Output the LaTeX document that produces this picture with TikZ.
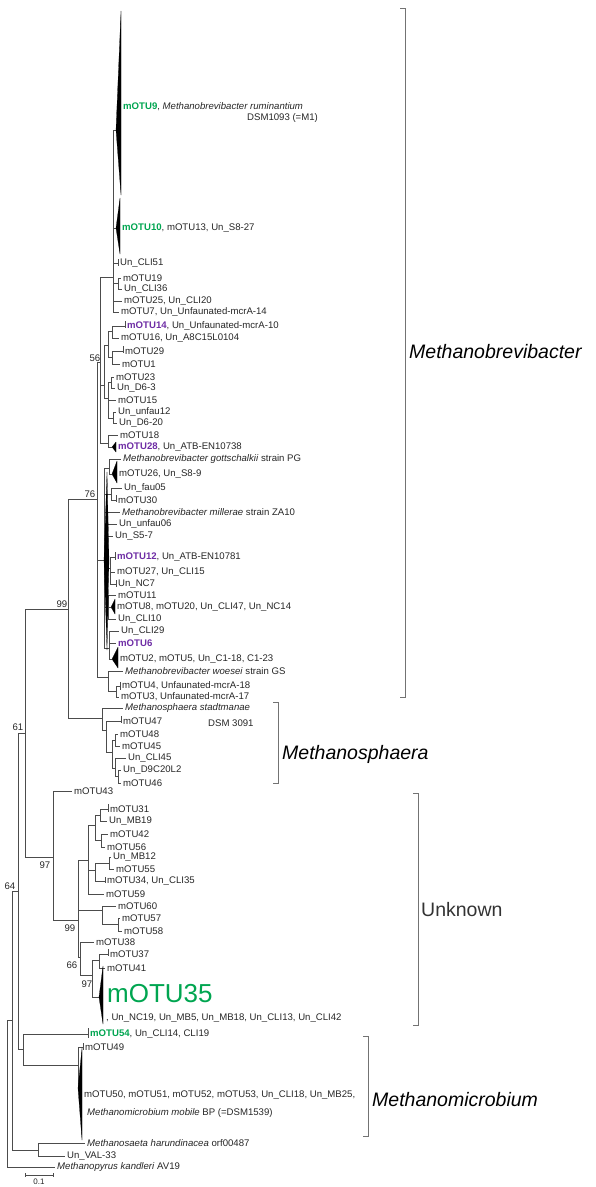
\documentclass[tikz,border=0pt]{standalone}
\usepackage{fontspec}
\setmainfont{Liberation Sans}
\usepackage{tikz}
\usepackage{xcolor}
\definecolor{otugreen}{RGB}{0,165,80}
\definecolor{otupurple}{RGB}{110,45,165}
\newcommand{\gotu}[1]{\textcolor{otugreen}{\bfseries #1}}
\newcommand{\potu}[1]{\textcolor{otupurple}{\bfseries #1}}

\begin{document}
\begin{tikzpicture}[x=1pt, y=-1pt,
    branch/.style={line width=0.75pt, draw=black!70},
    wedge/.style={fill=black, draw=black, line width=0.2pt, line join=round},
    leaf/.style={anchor=west, inner sep=0pt, xshift=2pt, text=black!85,
                 font=\fontsize{9.6}{11}\selectfont},
    boot/.style={inner sep=0pt, text=black!85, font=\fontsize{9.6}{11}\selectfont},
    clade/.style={anchor=west, inner sep=0pt, font=\fontsize{19.5}{22}\selectfont\itshape},
    bracket/.style={line width=0.9pt, draw=black!55}]

    \useasboundingbox (0,0) rectangle (595,1187);
%    \draw [help lines, opacity=0.5] (0,0) grid [step=50] (595,1187);

    %% backbone
    \coordinate (R) at (7,1093);
    \coordinate (Nb) at (12,1020);
    \coordinate (kand) at (55,1167);
    \coordinate (N64) at (18,891);
    \coordinate (NS) at (38,1150);
    \coordinate (haru) at (85,1143);
    \coordinate (val) at (65,1156);
    \coordinate (N61) at (25,733);
    \coordinate (NM) at (23,1049);
    \coordinate (N99) at (68,609);
    \coordinate (N97) at (53,857);

    %% Methanobrevibacter
    \coordinate (N76) at (97,499);
    \coordinate (N56) at (100,362);
    \coordinate (Nmb) at (104,560);
    \coordinate (Nwoe) at (108,677);
    \coordinate (G1) at (113,277);
    \coordinate (Nq) at (104,385);
    \coordinate (N18) at (108,443);
    \coordinate (T9) at (116,130);
    \coordinate (T10) at (116,228);
    \coordinate (c51) at (118,263);
    \coordinate (N19) at (118,283);
    \coordinate (m19) at (121,278);
    \coordinate (c36) at (122,289);
    \coordinate (m25) at (122,301);
    \coordinate (m7) at (119,312);
    \coordinate (Nq1) at (108,345);
    \coordinate (Nq1a) at (112,331);
    \coordinate (Nq1b) at (112,357);
    \coordinate (m14) at (125,326);
    \coordinate (m16) at (119,338);
    \coordinate (m29) at (123,351);
    \coordinate (m1) at (120,364);
    \coordinate (Nq2) at (108,398);
    \coordinate (Nq2a) at (111,382);
    \coordinate (m23) at (114,377);
    \coordinate (d63) at (115,388);
    \coordinate (m15) at (116,400);
    \coordinate (Nq2b) at (113,418);
    \coordinate (unf12) at (116,412);
    \coordinate (d620) at (117,423);
    \coordinate (m18) at (118,435);
    \coordinate (T28) at (112,447);
    \coordinate (Ngot) at (109,468);
    \coordinate (got) at (121,459);
    \coordinate (T26) at (112,474);
    \coordinate (Nfau) at (111,494);
    \coordinate (fau05) at (122,488);
    \coordinate (m30) at (116,500);
    \coordinate (mill) at (120,512);
    \coordinate (unf06) at (117,524);
    \coordinate (s57) at (113,536);
    \coordinate (N12) at (110,568);
    \coordinate (m12) at (115,557);
    \coordinate (m27) at (115,572);
    \coordinate (nc7) at (116,584);
    \coordinate (N11) at (108,607);
    \coordinate (m11) at (116,595);
    \coordinate (T8) at (111,607);
    \coordinate (c10) at (116,619);
    \coordinate (N6) at (109,648);
    \coordinate (c29) at (119,631);
    \coordinate (m6) at (116,643);
    \coordinate (T2) at (112,659);
    \coordinate (woe) at (123,671);
    \coordinate (N4) at (116,691);
    \coordinate (m4) at (120,686);
    \coordinate (m3) at (119,697);

    %% Methanosphaera
    \coordinate (NMs) at (102,718);
    \coordinate (stad) at (123,708);
    \coordinate (Ns1) at (106,730);
    \coordinate (m47) at (121,721);
    \coordinate (Ns2) at (112,752);
    \coordinate (Ns3) at (115,740);
    \coordinate (m48) at (118,734);
    \coordinate (m45) at (120,746);
    \coordinate (Ns4) at (115,768);
    \coordinate (c45) at (126,758);
    \coordinate (Ns5) at (118,776);
    \coordinate (d9) at (121,770);
    \coordinate (m46) at (121,783);

    %% unknown clade
    \coordinate (m43) at (72,791);
    \coordinate (N99b) at (78,920);
    \coordinate (Nu2) at (88,860);
    \coordinate (Nu2a) at (95,825);
    \coordinate (Nu31) at (100,815);
    \coordinate (m31) at (108,809);
    \coordinate (mb19) at (107,821);
    \coordinate (Nu42) at (101,840);
    \coordinate (m42) at (108,834);
    \coordinate (m56) at (105,847);
    \coordinate (Nu2b) at (95,870);
    \coordinate (Nu12) at (109,863);
    \coordinate (mb12) at (111,857);
    \coordinate (m55) at (114,869);
    \coordinate (m34) at (105,881);
    \coordinate (m59) at (104,894);
    \coordinate (Nu60) at (102,910);
    \coordinate (m60) at (116,906);
    \coordinate (Nu57) at (118,924);
    \coordinate (m57) at (120,918);
    \coordinate (m58) at (122,931);
    \coordinate (N66) at (80,957);
    \coordinate (m38) at (94,942);
    \coordinate (N97c) at (92,975);
    \coordinate (Nu37) at (99,960);
    \coordinate (m37) at (108,954);
    \coordinate (m41) at (105,968);
    \coordinate (T35) at (99,997);

    %% Methanomicrobium
    \coordinate (m54) at (88,1034);
    \coordinate (Nmm) at (78,1065);
    \coordinate (m49) at (83,1047);
    \coordinate (Tmm) at (78,1088);

    %% branches, one path per parent
    \draw [branch] (R) |- (Nb) (R) |- (kand);
    \draw [branch] (Nb) |- (N64) (Nb) |- (NS);
    \draw [branch] (NS) |- (haru) (NS) |- (val);
    \draw [branch] (N64) |- (N61) (N64) |- (NM);
    \draw [branch] (N61) |- (N99) (N61) |- (N97);
    \draw [branch] (N99) |- (N76) (N99) |- (NMs);
    \draw [branch] (N76) |- (N56) (N76) |- (Nmb) (N76) |- (Nwoe);
    \draw [branch] (N56) |- (G1) (N56) |- (Nq) (N56) |- (N18);
    \draw [branch] (G1) |- (T9) (G1) |- (T10) (G1) |- (c51) (G1) |- (N19) (G1) |- (m25) (G1) |- (m7);
    \draw [branch] (N19) |- (m19) (N19) |- (c36);
    \draw [branch] (Nq) |- (Nq1) (Nq) |- (Nq2);
    \draw [branch] (Nq1) |- (Nq1a) (Nq1) |- (Nq1b);
    \draw [branch] (Nq1a) |- (m14) (Nq1a) |- (m16);
    \draw [branch] (Nq1b) |- (m29) (Nq1b) |- (m1);
    \draw [branch] (Nq2) |- (Nq2a) (Nq2) |- (m15) (Nq2) |- (Nq2b);
    \draw [branch] (Nq2a) |- (m23) (Nq2a) |- (d63);
    \draw [branch] (Nq2b) |- (unf12) (Nq2b) |- (d620);
    \draw [branch] (N18) |- (m18) (N18) |- (T28);
    \draw [branch] (Nmb) |- (Ngot) (Nmb) |- (Nfau) (Nmb) |- (mill) (Nmb) |- (unf06)
                   (Nmb) |- (s57) (Nmb) |- (N12) (Nmb) |- (N11) (Nmb) |- (N6);
    \draw [branch] (Ngot) |- (got) (Ngot) |- (T26);
    \draw [branch] (Nfau) |- (fau05) (Nfau) |- (m30);
    \draw [branch] (N12) |- (m12) (N12) |- (m27) (N12) |- (nc7);
    \draw [branch] (N11) |- (m11) (N11) |- (T8) (N11) |- (c10);
    \draw [branch] (N6) |- (c29) (N6) |- (m6) (N6) |- (T2);
    \draw [branch] (Nwoe) |- (woe) (Nwoe) |- (N4);
    \draw [branch] (N4) |- (m4) (N4) |- (m3);
    \draw [branch] (NMs) |- (stad) (NMs) |- (Ns1);
    \draw [branch] (Ns1) |- (m47) (Ns1) |- (Ns2);
    \draw [branch] (Ns2) |- (Ns3) (Ns2) |- (Ns4);
    \draw [branch] (Ns3) |- (m48) (Ns3) |- (m45);
    \draw [branch] (Ns4) |- (c45) (Ns4) |- (Ns5);
    \draw [branch] (Ns5) |- (d9) (Ns5) |- (m46);
    \draw [branch] (N97) |- (m43) (N97) |- (N99b);
    \draw [branch] (N99b) |- (Nu2) (N99b) |- (Nu60) (N99b) |- (N66);
    \draw [branch] (Nu2) |- (Nu2a) (Nu2) |- (Nu2b) (Nu2) |- (m59);
    \draw [branch] (Nu2a) |- (Nu31) (Nu2a) |- (Nu42);
    \draw [branch] (Nu31) |- (m31) (Nu31) |- (mb19);
    \draw [branch] (Nu42) |- (m42) (Nu42) |- (m56);
    \draw [branch] (Nu2b) |- (Nu12) (Nu2b) |- (m34);
    \draw [branch] (Nu12) |- (mb12) (Nu12) |- (m55);
    \draw [branch] (Nu60) |- (m60) (Nu60) |- (Nu57);
    \draw [branch] (Nu57) |- (m57) (Nu57) |- (m58);
    \draw [branch] (N66) |- (m38) (N66) |- (N97c);
    \draw [branch] (N97c) |- (Nu37) (N97c) |- (T35);
    \draw [branch] (Nu37) |- (m37) (Nu37) |- (m41);
    \draw [branch] (NM) |- (m54) (NM) |- (Nmm);
    \draw [branch] (Nmm) |- (m49) (Nmm) |- (Tmm);

    %% tiny collapsed pairs shown as ticks
    \draw [branch] (c51) +(0,-4) -- +(0,3) (m14) +(0,-5) -- +(0,2) (m29) +(0,-5) -- +(0,2)
                   (m30) +(0,-5) -- +(0,2) (m12) +(0,-5) -- +(0,3) (nc7) +(0,-4) -- +(0,3)
                   (m47) +(0,-5) -- +(0,2) (m31) +(0,-5) -- +(0,3) (m34) +(0,-4) -- +(0,2)
                   (m37) +(0,-5) -- +(0,2) (m4) +(0,-4) -- +(0,4) (m54) +(0,-6) -- +(0,4)
                   (m49) +(0,-4) -- +(0,3);

    %% collapsed clades
    \fill [wedge] (T9) -- (121,11) -- (121,195) -- cycle;
    \fill [wedge] (T10) -- (120,198) -- (120,254) -- cycle;
    \fill [wedge] (T28) -- (116,442) -- (116,452) -- cycle;
    \fill [wedge] (T26) -- (117,461) -- (117,483) -- cycle;
    \fill [wedge] (Nmb) -- (107,472) -- (109,560) -- (107,650) -- cycle;
    \fill [wedge] (T8) -- (115,599) -- (115,614) -- cycle;
    \fill [wedge] (T2) -- (118,647) -- (118,668) -- cycle;
    \fill [wedge] (T35) -- (103,966) -- (103,1024) -- cycle;
    \fill [wedge] (Tmm) -- (82,1048) -- (82,1140) -- cycle;

    %% leaf labels
    \node [leaf] (L-m9) at (121,107) {\gotu{mOTU9}, \textit{Methanobrevibacter ruminantium}};
    \node [leaf] (L-dsm1) at (245,118) {DSM1093 (=M1)};
    \node [leaf] (L-m10) at (120,228) {\gotu{mOTU10}, mOTU13, Un\_S8-27};
    \node [leaf] (L-c51) at (c51) {Un\_CLI51};
    \node [leaf] (L-m19) at (m19) {mOTU19};
    \node [leaf] (L-c36) at (c36) {Un\_CLI36};
    \node [leaf] (L-m25) at (m25) {mOTU25, Un\_CLI20};
    \node [leaf] (L-m7) at (m7) {mOTU7, Un\_Unfaunated-mcrA-14};
    \node [leaf] (L-m14) at (m14) {\potu{mOTU14}, Un\_Unfaunated-mcrA-10};
    \node [leaf] (L-m16) at (m16) {mOTU16, Un\_A8C15L0104};
    \node [leaf] (L-m29) at (m29) {mOTU29};
    \node [leaf] (L-m1) at (m1) {mOTU1};
    \node [leaf] (L-m23) at (m23) {mOTU23};
    \node [leaf] (L-d63) at (d63) {Un\_D6-3};
    \node [leaf] (L-m15) at (m15) {mOTU15};
    \node [leaf] (L-unf12) at (unf12) {Un\_unfau12};
    \node [leaf] (L-d620) at (d620) {Un\_D6-20};
    \node [leaf] (L-m18) at (m18) {mOTU18};
    \node [leaf] (L-m28) at (116,447) {\potu{mOTU28}, Un\_ATB-EN10738};
    \node [leaf] (L-got) at (got) {\textit{Methanobrevibacter gottschalkii} strain PG};
    \node [leaf] (L-m26) at (117,474) {mOTU26, Un\_S8-9};
    \node [leaf] (L-fau05) at (fau05) {Un\_fau05};
    \node [leaf] (L-m30) at (m30) {mOTU30};
    \node [leaf] (L-mill) at (mill) {\textit{Methanobrevibacter millerae} strain ZA10};
    \node [leaf] (L-unf06) at (unf06) {Un\_unfau06};
    \node [leaf] (L-s57) at (s57) {Un\_S5-7};
    \node [leaf] (L-m12) at (m12) {\potu{mOTU12}, Un\_ATB-EN10781};
    \node [leaf] (L-m27) at (m27) {mOTU27, Un\_CLI15};
    \node [leaf] (L-nc7) at (nc7) {Un\_NC7};
    \node [leaf] (L-m11) at (m11) {mOTU11};
    \node [leaf] (L-m8) at (115,607) {mOTU8, mOTU20, Un\_CLI47, Un\_NC14};
    \node [leaf] (L-c10) at (c10) {Un\_CLI10};
    \node [leaf] (L-c29) at (c29) {Un\_CLI29};
    \node [leaf] (L-m6) at (m6) {\potu{mOTU6}};
    \node [leaf] (L-m2) at (118,659) {mOTU2, mOTU5, Un\_C1-18, C1-23};
    \node [leaf] (L-woe) at (woe) {\textit{Methanobrevibacter woesei} strain GS};
    \node [leaf] (L-m4) at (m4) {mOTU4, Unfaunated-mcrA-18};
    \node [leaf] (L-m3) at (m3) {mOTU3, Unfaunated-mcrA-17};
    \node [leaf] (L-stad) at (stad) {\textit{Methanosphaera stadtmanae}};
    \node [leaf] (L-dsm2) at (206,723) {DSM 3091};
    \node [leaf] (L-m47) at (m47) {mOTU47};
    \node [leaf] (L-m48) at (m48) {mOTU48};
    \node [leaf] (L-m45) at (m45) {mOTU45};
    \node [leaf] (L-c45) at (c45) {Un\_CLI45};
    \node [leaf] (L-d9) at (d9) {Un\_D9C20L2};
    \node [leaf] (L-m46) at (m46) {mOTU46};
    \node [leaf] (L-m43) at (m43) {mOTU43};
    \node [leaf] (L-m31) at (m31) {mOTU31};
    \node [leaf] (L-mb19) at (mb19) {Un\_MB19};
    \node [leaf] (L-m42) at (m42) {mOTU42};
    \node [leaf] (L-m56) at (m56) {mOTU56};
    \node [leaf] (L-mb12) at (mb12) {Un\_MB12};
    \node [leaf] (L-m55) at (m55) {mOTU55};
    \node [leaf] (L-m34) at (m34) {mOTU34, Un\_CLI35};
    \node [leaf] (L-m59) at (m59) {mOTU59};
    \node [leaf] (L-m60) at (m60) {mOTU60};
    \node [leaf] (L-m57) at (m57) {mOTU57};
    \node [leaf] (L-m58) at (m58) {mOTU58};
    \node [leaf] (L-m38) at (m38) {mOTU38};
    \node [leaf] (L-m37) at (m37) {mOTU37};
    \node [leaf] (L-m41) at (m41) {mOTU41};
    \node [leaf, text=otugreen, font=\fontsize{26}{28}\selectfont] (L-m35) at (105,994) {mOTU35};
    \node [leaf] (L-m35b) at (104,1018) {, Un\_NC19, Un\_MB5, Un\_MB18, Un\_CLI13, Un\_CLI42};
    \node [leaf] (L-m54) at (m54) {\gotu{mOTU54}, Un\_CLI14, CLI19};
    \node [leaf] (L-m49) at (m49) {mOTU49};
    \node [leaf] (L-mm1) at (82,1095) {mOTU50, mOTU51, mOTU52, mOTU53, Un\_CLI18, Un\_MB25,};
    \node [leaf] (L-mm2) at (85,1113) {\textit{Methanomicrobium mobile} BP (=DSM1539)};
    \node [leaf] (L-haru) at (haru) {\textit{Methanosaeta harundinacea} orf00487};
    \node [leaf] (L-val) at (val) {Un\_VAL-33};
    \node [leaf] (L-kand) at (kand) {\textit{Methanopyrus kandleri} AV19};

    %% bootstrap values
    \node [boot] (b64) at (10,886) {64};
    \node [boot] (b61) at (18,727) {61};
    \node [boot] (b99) at (62,604) {99};
    \node [boot] (b76) at (90,494) {76};
    \node [boot] (b56) at (95,358) {56};
    \node [boot] (b97) at (45,865) {97};
    \node [boot] (b99b) at (70,928) {99};
    \node [boot] (b66) at (72,965) {66};
    \node [boot] (b97c) at (87,984) {97};

    %% clade brackets
    \coordinate (brMb1) at (400,8);
    \coordinate (brMb2) at (400,697);
    \coordinate (brMs1) at (273,702);
    \coordinate (brMs2) at (273,783);
    \coordinate (brUn1) at (413,793);
    \coordinate (brUn2) at (413,1025);
    \coordinate (brMm1) at (363,1036);
    \coordinate (brMm2) at (363,1136);
    \draw [bracket] (brMb1) -- ++(5,0) |- (brMb2);
    \draw [bracket] (brMs1) -- ++(5,0) |- (brMs2);
    \draw [bracket] (brUn1) -- ++(5,0) |- (brUn2);
    \draw [bracket] (brMm1) -- ++(5,0) |- (brMm2);
    \node [clade] (cMb) at (409,352) {Methanobrevibacter};
    \node [clade] (cMs) at (282,754) {Methanosphaera};
    \node [clade, font=\fontsize{19.5}{22}\selectfont, text=black!80] (cUn) at (421,910) {Unknown};
    \node [clade] (cMm) at (372,1100) {Methanomicrobium};

    %% scale bar
    \coordinate (sb1) at (25,1175);
    \coordinate (sb2) at (53,1175);
    \draw [branch] (sb1) -- (sb2) (sb1) +(0,-2) -- +(0,2) (sb2) +(0,-2) -- +(0,2);
    \node [boot, font=\fontsize{8}{9}\selectfont] (sbl) at (39,1182) {0.1};
\end{tikzpicture}
\end{document}
